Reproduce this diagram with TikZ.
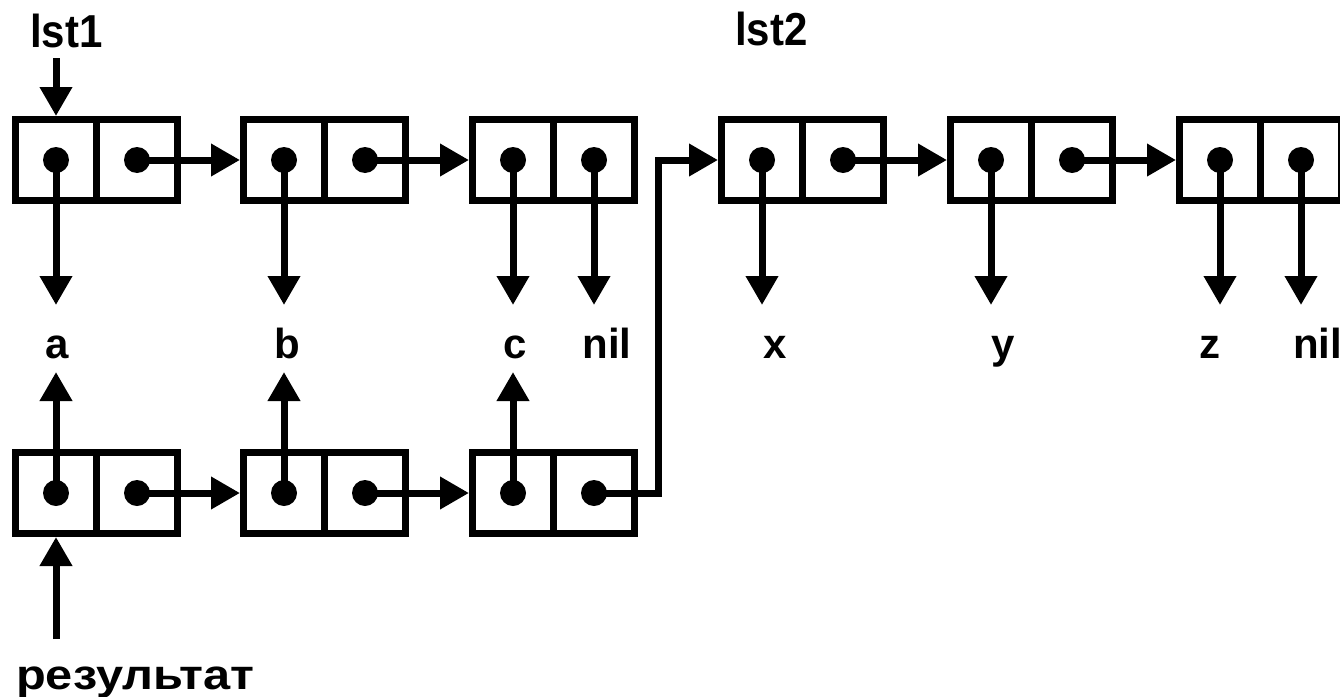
\documentclass[tikz,border=0pt]{standalone}
\usepackage{fontspec}
\setmainfont{Liberation Sans}
\usetikzlibrary{arrows.meta}
\begin{document}
\begin{tikzpicture}[x=1pt,y=-1pt,
  half/.style={draw,line width=7pt,minimum width=81pt,minimum height=81pt,inner sep=0pt,line join=miter},
  dotnode/.style={circle,fill,draw=none,inner sep=0pt,minimum size=26pt},
  arr/.style={line width=7pt,line join=miter,-{Triangle[length=29pt,width=31pt]}},
  lbl/.style={font=\bfseries\fontsize{42}{50}\selectfont,inner sep=0pt}]
\useasboundingbox (0,0) rectangle (1340,696);
\clip (0,0) rectangle (1340,696);
% top row cells
\foreach \n/\x in {1/56,2/284,3/513,4/762,5/991,6/1220}{
  \node[half] (ta\n) at (\x,160) {};
  \node[half] (td\n) at (\x+81,160) {};
  \node[dotnode] (tad\n) at (ta\n.center) {};
  \node[dotnode] (tdd\n) at (td\n.center) {};
}
% bottom row cells
\foreach \n/\x in {1/56,2/284,3/513}{
  \node[half] (ba\n) at (\x,493) {};
  \node[half] (bd\n) at (\x+81,493) {};
  \node[dotnode] (bad\n) at (ba\n.center) {};
  \node[dotnode] (bdd\n) at (bd\n.center) {};
}
% labels
\node[lbl,anchor=base west] (lst1) at (30,47) {\scalebox{1}[1.1]{lst1}};
\node[lbl,anchor=base west] (lst2) at (735,45) {\scalebox{1}[1.1]{lst2}};
\node[lbl,anchor=base] (la) at (57,358) {a};
\node[lbl,anchor=base] (lb) at (287,358) {b};
\node[lbl,anchor=base] (lc) at (515,358) {c};
\node[lbl,anchor=base] (lnil1) at (607,358) {nil};
\node[lbl,anchor=base] (lx) at (775,358) {x};
\node[lbl,anchor=base] (ly) at (1003,358) {y};
\node[lbl,anchor=base] (lz) at (1210,358) {z};
\node[lbl,anchor=base west] (lnil2) at (1293,358) {nil};
\node[lbl,anchor=base west] (res) at (16,689) {\scalebox{1.16}[1]{результат}};
% arrow end coordinates
\coordinate (s1) at (56,58);
\coordinate (s2) at (56,639);
\foreach \n/\x in {1/56,2/284,3/513,4/762,5/991,6/1220}{
  \coordinate (pa\n) at (\x,305);
}
\coordinate (pd3) at (594,305);
\coordinate (pd6) at (1301,305);
\foreach \n/\x in {1/56,2/284,3/513}{
  \coordinate (qa\n) at (\x,372);
}
\coordinate (bend) at (658,493);
% horizontal links
\draw[arr] (tdd1.center) -- (ta2.west);
\draw[arr] (tdd2.center) -- (ta3.west);
\draw[arr] (tdd4.center) -- (ta5.west);
\draw[arr] (tdd5.center) -- (ta6.west);
\draw[arr] (bdd1.center) -- (ba2.west);
\draw[arr] (bdd2.center) -- (ba3.west);
\draw[arr] (bdd3.center) -- (bend) |- (ta4.west);
% car pointers
\foreach \n in {1,2,3,4,5,6}{
  \draw[arr] (tad\n.center) -- (pa\n);
}
\draw[arr] (tdd3.center) -- (pd3);
\draw[arr] (tdd6.center) -- (pd6);
\foreach \n in {1,2,3}{
  \draw[arr] (bad\n.center) -- (qa\n);
}
% entry pointers
\draw[arr] (s1) -- (ta1.north);
\draw[arr] (s2) -- (ba1.south);
\end{tikzpicture}
\end{document}
